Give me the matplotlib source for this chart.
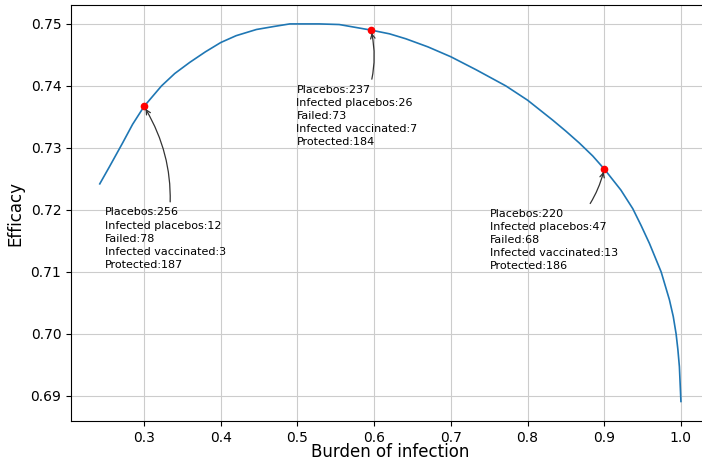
import matplotlib
matplotlib.use("Agg")
import matplotlib.pyplot as plt

# Curve
burden = [0.2422, 0.255, 0.2720, 0.285, 0.300, 0.3227, 0.340, 0.3596, 0.380, 0.400,
          0.420, 0.4465, 0.470, 0.490, 0.5283, 0.5544, 0.596, 0.620, 0.6413, 0.670,
          0.700, 0.733, 0.7717, 0.800, 0.8326, 0.850, 0.8674, 0.885, 0.900, 0.9217,
          0.9372, 0.948, 0.9589, 0.9742, 0.9850, 0.990, 0.9937, 0.996, 0.9980, 1.000]
efficacy = [0.7242, 0.7270, 0.7308, 0.7338, 0.7367, 0.7400, 0.7420, 0.7438, 0.7455, 0.7470,
            0.7481, 0.7491, 0.7496, 0.7500, 0.7500, 0.7499, 0.7490, 0.7484, 0.7476, 0.7463,
            0.7447, 0.7426, 0.7400, 0.7377, 0.7345, 0.7327, 0.7308, 0.7287, 0.7266, 0.7232,
            0.7202, 0.7175, 0.7146, 0.7100, 0.7055, 0.7028, 0.7000, 0.6975, 0.6947, 0.6891]

# Highlighted points
pt_x = [0.300, 0.596, 0.900]
pt_y = [0.7367, 0.7490, 0.7266]
placebos = [256, 237, 220]
infected_placebos = [12, 26, 47]
failed = [78, 73, 68]
infected_vaccinated = [3, 7, 13]
protected = [187, 184, 186]

text_x = [0.249, 0.4987, 0.751]
text_y = [0.7204, 0.7402, 0.7202]

fig = plt.figure(figsize=(7.02, 4.61), dpi=100)
ax = fig.add_axes([71/702, 40/461, 639/702, 416/461])
ax.plot(burden, efficacy, color='C0', lw=1.2)
ax.plot(pt_x, pt_y, 'o', color='red', markersize=4.5)

for i in range(3):
    label = (f"Placebos:{placebos[i]}\nInfected placebos:{infected_placebos[i]}\n"
             f"Failed:{failed[i]}\nInfected vaccinated:{infected_vaccinated[i]}\n"
             f"Protected:{protected[i]}")
    ax.annotate(label, xy=(pt_x[i], pt_y[i]), xytext=(text_x[i], text_y[i]),
                fontsize=8, ha='left', va='top', linespacing=1.4,
                arrowprops=dict(arrowstyle='->', color='#333333', lw=0.9,
                                connectionstyle="arc3,rad=0.2"))

ax.set_xlim(0.2047, 1.0379)
ax.set_ylim(0.68595, 0.75305)
ax.set_xticks([0.3, 0.4, 0.5, 0.6, 0.7, 0.8, 0.9, 1.0])
ax.set_yticks([0.69, 0.70, 0.71, 0.72, 0.73, 0.74, 0.75])
ax.set_yticklabels(['0.69', '0.70', '0.71', '0.72', '0.73', '0.74', '0.75'])
ax.tick_params(labelsize=10)
ax.grid(True, color='#cccccc', lw=0.8)
ax.set_xlabel('Burden of infection', fontsize=12, labelpad=-1)
ax.set_ylabel('Efficacy', fontsize=12)

fig.savefig('out.png', dpi=100)
